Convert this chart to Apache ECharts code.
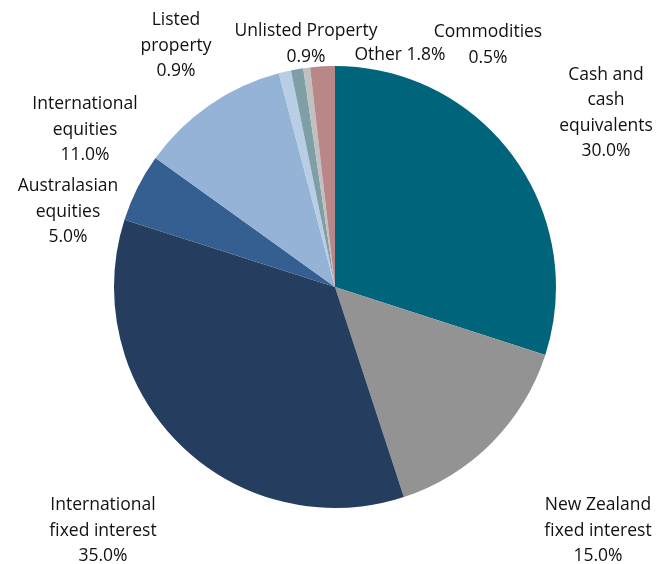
<!DOCTYPE html>
<html>
<head>
<meta charset="utf-8">
<script src="https://cdn.jsdelivr.net/npm/echarts@6/dist/echarts.min.js"></script>
<style>
html,body{margin:0;padding:0;background:#fff;}
#chart{width:665px;height:564px;}
</style>
</head>
<body>
<div id="chart"></div>
<script>
var categories = [
  'Cash and\ncash\nequivalents',
  'New Zealand\nfixed interest',
  'International\nfixed interest',
  'Australasian\nequities',
  'International\nequities',
  'Listed\nproperty',
  'Unlisted Property',
  'Commodities',
  'Other'
];
var values = [30.0, 15.0, 35.0, 5.0, 11.0, 0.9, 0.9, 0.5, 1.8];
var colors = ['#00647A', '#939393', '#253D5E', '#355F91', '#95B3D7', '#B9CDE5', '#7F9FA6', '#C0C0C0', '#B98787'];
// label placement (style only): centre of each label block
var labelPos = [
  [606, 113], [598, 531], [103, 531], [68, 212], [85, 130],
  [176, 46], [306, 44], [488, 45], [400, 55]
];

var data = categories.map(function (c, i) {
  return { name: c, value: values[i], itemStyle: { color: colors[i] } };
});

var chart = echarts.init(document.getElementById('chart'));
chart.setOption({
  animation: false,
  series: [{
    type: 'pie',
    center: [335, 287],
    radius: 221,
    startAngle: 90,
    clockwise: true,
    data: data,
    itemStyle: { borderWidth: 0 },
    label: {
      show: true,
      position: 'outside',
      overflow: 'none',
      fontFamily: 'Open Sans',
      fontSize: 17.5,
      lineHeight: 25.5,
      color: '#111',
      align: 'center',
      formatter: function (p) {
        var sep = p.dataIndex === 8 ? ' ' : '\n';
        return p.name + sep + p.value.toFixed(1) + '%';
      }
    },
    labelLine: { show: false },
    labelLayout: function (p) {
      var pos = labelPos[p.dataIndex];
      return { x: pos[0], y: pos[1], align: 'center', verticalAlign: 'middle', moveOverlap: false, hideOverlap: false };
    }
  }]
});
</script>
</body>
</html>
